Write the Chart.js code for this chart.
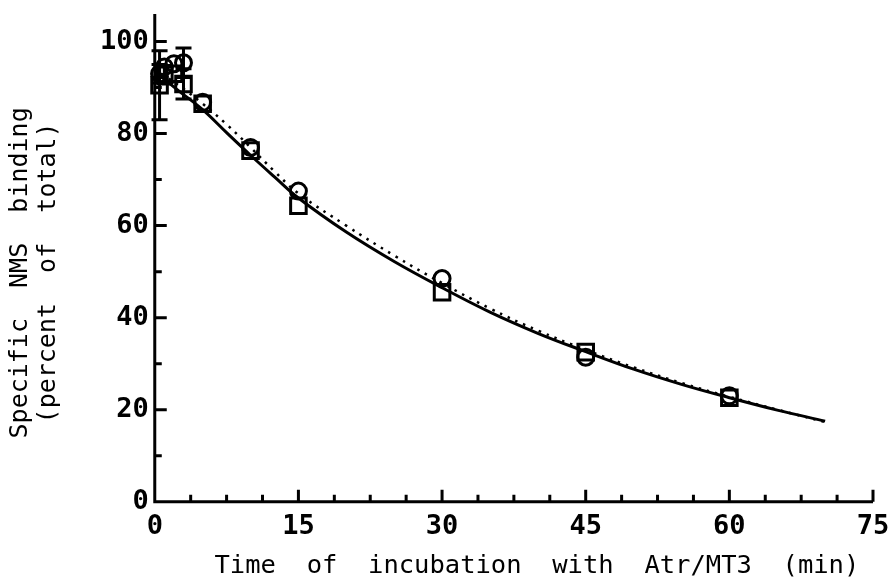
<!DOCTYPE html>
<html>
<head>
<meta charset="utf-8">
<script src="https://cdn.jsdelivr.net/npm/chart.js@4/dist/chart.umd.min.js"></script>
<style>
html,body{margin:0;padding:0;background:#fff;}
#wrap{width:891px;height:580px;}
</style>
</head>
<body>
<div id="wrap"><canvas id="c" width="891" height="580"></canvas></div>
<script>
// Data
const circleT = [0.5, 1, 2, 3, 5, 10, 15, 30, 45, 60];
const circleV = [93, 94.5, 95.2, 95.4, 86.8, 77, 67.5, 48.5, 31.4, 23];
const circleErr = [2, 1.5, 1.5, 3.2, 0.8, 0.6, 0.6, 1.2, 0.6, 0.5];
const squareT = [0.5, 1, 2, 3, 5, 10, 15, 30, 45, 60];
const squareV = [90.5, 92.8, 93, 90.8, 86.5, 76.3, 64.3, 45.5, 32.5, 22.6];
const squareErr = [7.5, 2, 1.5, 3.3, 0.8, 1.2, 1.2, 1.2, 0.6, 0.6];
const fitT = [0, 2.5, 5, 7.5, 10, 12.5, 15, 20, 25, 30, 35, 40, 45, 50, 55, 60, 65, 70];
const solidFit = [93.5, 89.3, 85.2, 80.2, 75.3, 70.6, 66, 58.6, 52.2, 46.5, 41.2, 36.6, 32.6, 28.8, 25.5, 22.6, 19.9, 17.5];
const dottedFit = [94, 90.5, 86.5, 82, 77, 71.8, 67, 60, 53.5, 47.5, 42, 37.2, 33, 29.2, 25.8, 22.8, 20, 17.3];
const xMajorTicks = [0, 15, 30, 45, 60, 75];
const yMajorTicks = [0, 20, 40, 60, 80, 100];

const xy = (xs, ys) => xs.map((x, i) => ({x: x, y: ys[i]}));

const FONT = "'DejaVu Sans Mono', monospace";

const errorBars = {
  id: 'errorBars',
  afterDatasetsDraw(chart) {
    const ctx = chart.ctx, xs = chart.scales.x, ys = chart.scales.y;
    const sets = [[circleT, circleV, circleErr], [squareT, squareV, squareErr]];
    ctx.save();
    ctx.strokeStyle = '#000';
    ctx.lineWidth = 3;
    sets.forEach(([T, V, E]) => {
      T.forEach((t, i) => {
        const px = xs.getPixelForValue(t);
        const top = ys.getPixelForValue(V[i] + E[i]);
        const bot = ys.getPixelForValue(V[i] - E[i]);
        if (bot - top < 18) return;
        ctx.beginPath();
        ctx.moveTo(px, top); ctx.lineTo(px, bot);
        ctx.moveTo(px - 8, top); ctx.lineTo(px + 8, top);
        ctx.moveTo(px - 8, bot); ctx.lineTo(px + 8, bot);
        ctx.stroke();
      });
    });
    ctx.restore();
  }
};

const axesPlugin = {
  id: 'axesPlugin',
  beforeDatasetsDraw(chart) {
    const ctx = chart.ctx, xs = chart.scales.x, ys = chart.scales.y;
    const a = chart.chartArea;
    ctx.save();
    ctx.strokeStyle = '#000';
    ctx.lineWidth = 3;
    ctx.beginPath();
    ctx.moveTo(a.left, a.top); ctx.lineTo(a.left, a.bottom); ctx.lineTo(a.right, a.bottom);
    for (let v = 0; v <= 75.001; v += 3.75) {
      const px = xs.getPixelForValue(v);
      const len = xMajorTicks.some(m => Math.abs(m - v) < 1e-6) ? 12 : 7;
      ctx.moveTo(px, a.bottom); ctx.lineTo(px, a.bottom - len);
    }
    for (let v = 0; v <= 100.001; v += 10) {
      const py = ys.getPixelForValue(v);
      const len = yMajorTicks.some(m => Math.abs(m - v) < 1e-6) ? 12 : 7;
      ctx.moveTo(a.left, py); ctx.lineTo(a.left + len, py);
    }
    ctx.stroke();
    ctx.restore();
  }
};

new Chart(document.getElementById('c'), {
  type: 'scatter',
  data: {
    datasets: [
      { label: 'solid fit', type: 'line', data: xy(fitT, solidFit), borderColor: '#000', borderWidth: 3,
        pointRadius: 0, tension: 0.4, fill: false },
      { label: 'dotted fit', type: 'line', data: xy(fitT, dottedFit), borderColor: '#000', borderWidth: 2.5,
        borderDash: [2.5, 6], pointRadius: 0, tension: 0.4, fill: false },
      { label: 'circles', data: xy(circleT, circleV), pointStyle: 'circle', pointRadius: 8,
        borderColor: '#000', borderWidth: 3, backgroundColor: 'rgba(0,0,0,0)' },
      { label: 'squares', data: xy(squareT, squareV), pointStyle: 'rect', pointRadius: 11,
        borderColor: '#000', borderWidth: 3, backgroundColor: 'rgba(0,0,0,0)' }
    ]
  },
  options: {
    responsive: false,
    animation: false,
    clip: false,
    layout: { padding: { left: 0, right: 0, top: 0, bottom: 0 } },
    plugins: { legend: { display: false }, tooltip: { enabled: false } },
    scales: {
      x: {
        type: 'linear', min: 0, max: 75,
        afterBuildTicks: s => { s.ticks = xMajorTicks.map(v => ({value: v})); },
        afterFit: s => { s.paddingRight = 18; },
        grid: { display: false, drawTicks: false },
        border: { display: false },
        ticks: { color: '#000', font: { family: FONT, size: 27, weight: 'bold', lineHeight: 0.9 }, padding: 13, maxRotation: 0, autoSkip: false },
        title: { display: true, text: '   Time  of  incubation  with  Atr/MT3  (min)', color: '#000',
          font: { family: FONT, size: 25.5, lineHeight: 1.1 }, padding: { top: 0, bottom: 0 } }
      },
      y: {
        type: 'linear', min: 0, max: 106,
        afterBuildTicks: s => { s.ticks = yMajorTicks.map(v => ({value: v})); },
        afterFit: s => { s.paddingTop = 13; },
        grid: { display: false, drawTicks: false },
        border: { display: false },
        ticks: { color: '#000', font: { family: FONT, size: 27, weight: 'bold', lineHeight: 1.0 }, padding: 6, autoSkip: false },
        title: { display: true, text: ['Specific  NMS  binding  ', '(percent  of  total)  '], color: '#000',
          font: { family: FONT, size: 25, lineHeight: 1.1 }, padding: { top: 7, bottom: 32 } }
      }
    }
  },
  plugins: [axesPlugin, errorBars]
});
</script>
</body>
</html>
